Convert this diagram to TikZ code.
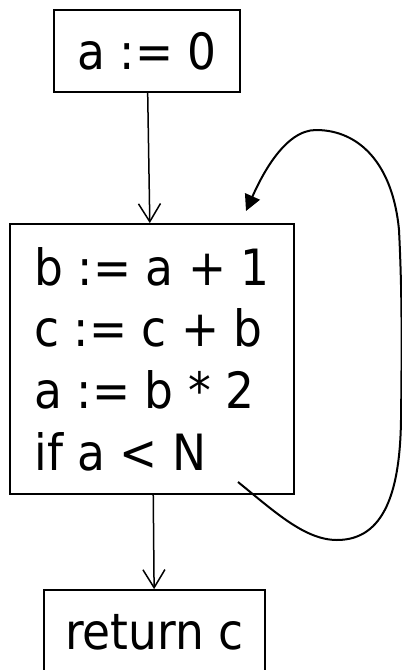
\documentclass[tikz,border=0pt]{standalone}
\usepackage{fontspec}
\setmainfont[FakeStretch=0.91]{DejaVu Sans}
\usetikzlibrary{arrows.meta,positioning,calc}

\begin{document}
\begin{tikzpicture}[x=1pt,y=-1pt,
    block/.style={draw,line width=1.8pt,inner sep=0pt,
                  font=\fontsize{50}{61.7}\selectfont},
    flow/.style={line width=1.5pt,-{Straight Barb[length=18pt,width=22pt]}},
    back/.style={line width=2pt,-{Triangle[length=16pt,width=16pt]}}]
  \useasboundingbox (0,0) rectangle (402,670);
  %% Basic blocks
  \node[block,minimum width=186pt,minimum height=82pt] (init) at (147,51) {a := 0};
  \node[block,minimum width=284pt,minimum height=270pt,align=left] (body) at (152,359)
        {b := a + 1\\c := c + b\\a := b * 2\\if a < N};
  \node[block,minimum width=221pt,minimum height=84pt] (ret) at (154.5,632) {return c};
  %% Straight edges
  \draw[flow] (init) -- (body);
  \draw[flow] (body) -- (ret);
  %% Back edge of the loop
  \coordinate (loopout) at (238,482);
  \coordinate (loopin) at (246,211);
  \draw[back] (loopout) .. controls (275,512) and (305,540) .. (337,540)
    .. controls (385,540) and (400,490) .. (401,420)
    .. controls (402,340) and (402,290) .. (399,230)
    .. controls (393,165) and (360,130) .. (316,130)
    .. controls (285,130) and (262,175) .. (loopin);
\end{tikzpicture}
\end{document}
